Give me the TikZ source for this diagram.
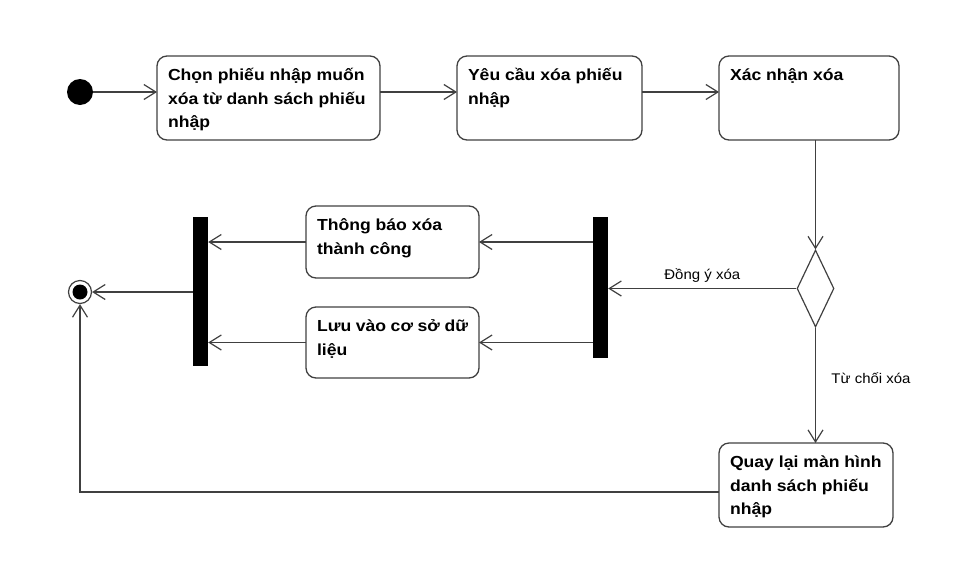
\documentclass[tikz,border=0pt]{standalone}
\usepackage{fontspec}
\setmainfont{Liberation Sans}[FakeStretch=1.07]
\newfontfamily\boxfont{Liberation Sans}[FakeStretch=1.1]
\usetikzlibrary{arrows.meta,shapes.geometric}
\definecolor{linec}{HTML}{404040}
\newcommand{\acttext}[3]{\parbox[t][#1][t]{#2}{\boxfont\fontsize{16}{23.5}\selectfont\bfseries\raggedright\rule{0pt}{24.5pt}#3}}
\newcommand{\lblfont}{\fontsize{14}{16}\selectfont}
\tikzset{
  act/.style={draw=linec, line width=1.3pt, rounded corners=10pt, inner xsep=11pt, inner ysep=0pt, outer sep=0pt},
  flow/.style={draw=linec, line width=1.2pt, -{Straight Barb[length=12pt,width=15pt]}},
  syncbar/.style={fill=black, draw=none, inner sep=0pt, minimum width=15pt},
}
\begin{document}
\begin{tikzpicture}[x=1pt,y=-1pt]
\useasboundingbox (0,0) rectangle (960,584);
% nodes
\node[circle, fill=black, minimum size=26pt, inner sep=0pt] (start) at (80,92) {};
\node[act] (b1) at (268.5,98) {\acttext{84pt}{201pt}{Chọn phiếu nhập muốn\\xóa từ danh sách phiếu\\nhập}};
\node[act] (b2) at (549.5,98) {\acttext{84pt}{163pt}{Yêu cầu xóa phiếu\\nhập}};
\node[act] (b3) at (809,98) {\acttext{84pt}{158pt}{Xác nhận xóa}};
\node[diamond, draw=linec, line width=1.2pt, minimum width=37pt, minimum height=77pt, inner sep=0pt] (dec) at (815.5,288.5) {};
\node[syncbar, minimum height=141pt] (fork) at (600.5,287.5) {};
\node[act] (b4) at (392.5,242) {\acttext{72pt}{151pt}{Thông báo xóa\\thành công}};
\node[act] (b5) at (392.5,342.5) {\acttext{71pt}{151pt}{Lưu vào cơ sở dữ\\liệu}};
\node[syncbar, minimum height=149pt] (join) at (200.5,291.5) {};
\node[circle, draw=linec, line width=1.2pt, minimum size=23pt, inner sep=0pt] (final) at (80,292) {};
\fill (final.center) circle (7.5pt);
\node[act] (b6) at (806,485) {\acttext{84pt}{152pt}{Quay lại màn hình\\danh sách phiếu\\nhập}};
\coordinate (turn) at (80,492);
% connectors
\draw[flow] (start) -- (start -| b1.west);
\draw[flow] (b1.east |- start) -- (b2.west |- start);
\draw[flow] (b2.east |- start) -- (b3.west |- start);
\draw[flow] (dec.north |- b3.south) -- (dec.north);
\draw[flow] (dec.west) -- (dec.west -| fork.east) node[midway, above=2pt, font=\lblfont] {Đồng ý xóa};
\draw[flow] (fork.west |- b4) -- (b4.east);
\draw[flow] (fork.west |- b5) -- (b5.east);
\draw[flow] (b4.west) -- (b4.west -| join.east);
\draw[flow] (b5.west) -- (b5.west -| join.east);
\draw[flow] (join.west |- final) -- (final.east);
\draw[flow] (dec.south) -- (dec.south |- b6.north) node[pos=0.44, anchor=west, xshift=12pt, font=\lblfont] {Từ chối xóa};
\draw[flow] (turn -| b6.west) -- (turn) -- (final.south);
\end{tikzpicture}
\end{document}
